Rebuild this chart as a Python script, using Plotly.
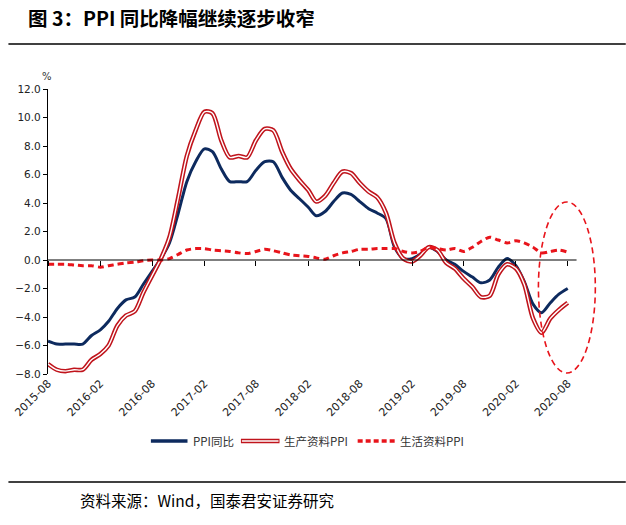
import pandas as pd
import plotly.graph_objects as go

months = pd.date_range("2015-08-01", periods=61, freq="MS")

ppi = [-5.7, -5.9, -5.9, -5.9, -5.9,
       -5.3, -4.9, -4.3, -3.4, -2.8, -2.6, -1.7, -0.8, 0.1, 1.2, 3.3, 5.5,
       6.9, 7.8, 7.6, 6.4, 5.5, 5.5, 5.5, 6.3, 6.9, 6.9, 5.8, 4.9,
       4.3, 3.7, 3.1, 3.4, 4.1, 4.7, 4.6, 4.1, 3.6, 3.3, 2.9, 0.9,
       0.1, 0.1, 0.4, 0.9, 0.6, 0.0, -0.3, -0.8, -1.2, -1.6, -1.4, -0.5,
       0.1, -0.4, -1.5, -3.1, -3.7, -3.0, -2.4, -2.0]

producer = [-7.3, -7.7, -7.8, -7.7, -7.7,
            -7.0, -6.6, -6.0, -4.6, -3.9, -3.6, -2.3, -1.1, 0.1, 1.6, 4.4, 7.3,
            9.1, 10.4, 10.3, 8.4, 7.2, 7.3, 7.2, 8.4, 9.2, 9.1, 7.6, 6.4,
            5.6, 4.9, 4.1, 4.5, 5.4, 6.2, 6.1, 5.4, 4.8, 4.4, 3.3, 1.2,
            0.1, -0.1, 0.3, 0.9, 0.7, -0.2, -0.6, -1.3, -1.9, -2.6, -2.5, -1.0,
            -0.3, -0.6, -1.7, -4.1, -5.1, -4.1, -3.5, -3.0]

consumer = [-0.3, -0.3, -0.3, -0.35, -0.4,
            -0.4, -0.5, -0.4, -0.3, -0.2, -0.15, -0.05, 0.0, 0.0, 0.1, 0.4, 0.7,
            0.8, 0.8, 0.7, 0.65, 0.6, 0.5, 0.45, 0.6, 0.75, 0.65, 0.5, 0.35,
            0.3, 0.25, 0.15, 0.05, 0.3, 0.5, 0.6, 0.75, 0.75, 0.8, 0.8, 0.8,
            0.6, 0.5, 0.6, 0.9, 0.8, 0.7, 0.8, 0.6, 0.9, 1.3, 1.6, 1.4,
            1.2, 1.35, 1.2, 0.9, 0.5, 0.6, 0.7, 0.55]

tick_vals = pd.date_range("2015-08-01", "2020-08-01", freq="6MS")
tick_text = [d.strftime("%Y-%m") for d in tick_vals]

names = ["PPI同比", "生产资料PPI", "生活资料PPI"]
navy = "#0D2A5E"
dark_red = "#C0141C"
bright_red = "#E8141B"

x_start = "2015-08-01"
x_end = "2020-12-10"
axis_end = "2020-09-01"

W, H = 626, 525
L, R, T, B = 42, 21, 89, 151
pw, ph = W - L - R, H - T - B


def px(xp):
    return (xp - L) / pw


def py(yp):
    return (H - B - yp) / ph


fig = go.Figure()

fig.add_trace(go.Scatter(x=months, y=ppi, mode="lines", name=names[0],
                         line=dict(color=navy, width=3, shape="spline", smoothing=0.8),
                         showlegend=False))
fig.add_trace(go.Scatter(x=months, y=producer, mode="lines", name=names[1],
                         line=dict(color=dark_red, width=4.5, shape="spline", smoothing=0.8),
                         showlegend=False))
fig.add_trace(go.Scatter(x=months, y=producer, mode="lines", name=names[1],
                         line=dict(color="white", width=1.4, shape="spline", smoothing=0.8),
                         showlegend=False, hoverinfo="skip"))
fig.add_trace(go.Scatter(x=months, y=consumer, mode="lines", name=names[2],
                         line=dict(color=bright_red, width=3, dash="6px,4px",
                                   shape="spline", smoothing=0.8),
                         showlegend=False))
# zero axis line with ticks (on an overlaid free x axis)
fig.add_trace(go.Scatter(x=[x_start, axis_end], y=[0, 0], mode="lines",
                         line=dict(color="black", width=1.2), xaxis="x2",
                         showlegend=False, hoverinfo="skip"))

# dashed ellipse highlight
fig.add_shape(type="circle", xref="x", yref="y",
              x0="2020-04-20", x1="2020-11-06", y0=-7.93, y1=4.07,
              line=dict(color=bright_red, width=1.6, dash="6px,4px"))

# manual legend
leg_y = py(441)
legend_items = [
    (146, 183, 187, dict(color=navy, width=3.5), None),
    (237, 276, 279, dict(color=dark_red, width=4.5), dict(color="white", width=1.4)),
    (355, 393, 396, dict(color=bright_red, width=3.5, dash="5px,3px"), None),
]
for (x0, x1, xt, ln, inner), nm in zip(legend_items, names):
    fig.add_shape(type="line", xref="paper", yref="paper",
                  x0=px(x0), x1=px(x1), y0=leg_y, y1=leg_y, line=ln)
    if inner:
        fig.add_shape(type="line", xref="paper", yref="paper",
                      x0=px(x0 + 1), x1=px(x1 - 1), y0=leg_y, y1=leg_y, line=inner)
    fig.add_annotation(text=nm, xref="paper", yref="paper", x=px(xt), y=leg_y,
                       xanchor="left", yanchor="middle", showarrow=False,
                       font=dict(family="Noto Sans CJK SC", size=11.5, color="#333333"))

# rules
for yy in (44, 482):
    fig.add_shape(type="line", xref="paper", yref="paper",
                  x0=px(2), x1=px(626), y0=py(yy), y1=py(yy),
                  line=dict(color="black", width=1.3))

# % label
fig.add_annotation(text="%", xref="paper", yref="paper", x=px(41), y=py(76),
                   xanchor="center", yanchor="middle", showarrow=False,
                   font=dict(family="DejaVu Sans", size=10, color="#333333"))

# source
fig.add_annotation(text="资料来源：Wind，国泰君安证券研究", xref="paper", yref="paper",
                   x=px(72), y=py(500), xanchor="left", yanchor="middle",
                   showarrow=False,
                   font=dict(family="Noto Sans CJK SC", size=15.5, color="black"))

fig.update_layout(
    width=W, height=H,
    margin=dict(l=L, r=R, t=T, b=B),
    paper_bgcolor="white", plot_bgcolor="white",
    title=dict(text="<b>图 3：PPI 同比降幅继续逐步收窄</b>", xref="container", yref="container",
               x=28 / W, y=1 - 19 / H, xanchor="left", yanchor="middle",
               font=dict(family="Noto Sans CJK SC", size=19.5, color="black")),
    xaxis=dict(type="date", range=[x_start, x_end], tickvals=tick_vals, ticktext=tick_text,
               tickangle=-45, ticks="", showgrid=False, zeroline=False, showline=False,
               tickfont=dict(family="DejaVu Sans", size=11, color="#222222")),
    xaxis2=dict(type="date", overlaying="x", anchor="free", position=0.4,
                range=[x_start, x_end], tickvals=tick_vals, ticks="outside", ticklen=5,
                tickcolor="black", tickwidth=1.2, showticklabels=False, showgrid=False,
                zeroline=False, showline=False),
    yaxis=dict(range=[-8, 12], dtick=2, tickformat=".1f", showline=True, linecolor="black",
               linewidth=1.2, ticks="outside", ticklen=4, tickcolor="black", showgrid=False,
               zeroline=False,
               tickfont=dict(family="DejaVu Sans", size=10.5, color="#222222")),
)

fig.write_html("out.html", config={"displayModeBar": False},
               post_script="document.body.style.margin='0';document.body.style.overflow='hidden';")
